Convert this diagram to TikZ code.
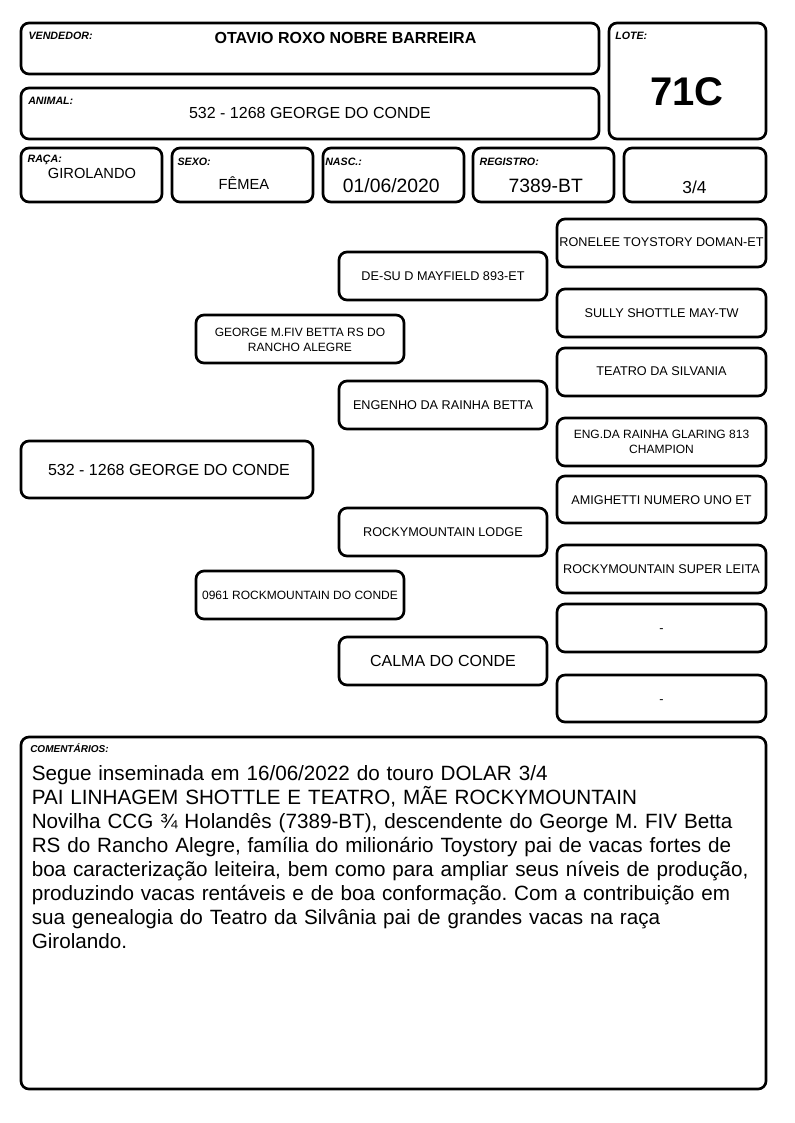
\documentclass[tikz,border=0pt]{standalone}
\usepackage{fontspec}
\setmainfont{Liberation Sans}
\usetikzlibrary{fit}
\frenchspacing
\begin{document}
\begin{tikzpicture}[x=0.75pt,y=-0.75pt,
  box/.style={draw, line width=2pt, rounded corners=6pt, inner sep=0pt, outer sep=0pt},
  lbl/.style={anchor=base west, inner sep=0pt, font=\fontsize{8}{9}\selectfont\bfseries\itshape},
  val/.style={anchor=base, inner sep=0pt},
  pt/.style={inner sep=0pt, anchor=center, font=\fontsize{9.5}{11}\selectfont, text height=6.8pt, text depth=0pt},
  ptbig/.style={inner sep=0pt, anchor=center, font=\fontsize{12}{14}\selectfont, text height=8.6pt, text depth=0pt},
  ptsm/.style={inner sep=0pt, anchor=center, font=\fontsize{9}{11.25}\selectfont, align=center},
]
\useasboundingbox (0,0) rectangle (794,1123);

% header boxes
\node[box, fit={(21,23)(599,74)}] (vend) {};
\node[lbl] (vendl) at (28.3,39.3) {VENDEDOR:};
\node[val, font=\fontsize{12}{14}\selectfont\bfseries] (vendv) at (345.5,43.3) {OTAVIO ROXO NOBRE BARREIRA};

\node[box, fit={(609,23)(766,139)}] (lote) {};
\node[lbl] (lotel) at (615,39.5) {LOTE:};
\node[val, font=\fontsize{30}{32}\selectfont\bfseries] (lotev) at (687,105.7) {71C};

\node[box, fit={(21,88)(599,139)}] (anim) {};
\node[lbl] (animl) at (28,104.7) {ANIMAL:};
\node[val, font=\fontsize{12}{14}\selectfont] (animv) at (310,119) {532 - 1268 GEORGE DO CONDE};

\node[box, fit={(21,148)(162,202)}] (raca) {};
\node[lbl] (racal) at (27.3,162.2) {RAÇA:};
\node[val, font=\fontsize{11}{13}\selectfont] (racav) at (92,178.3) {GIROLANDO};

\node[box, fit={(172,148)(313,202)}] (sexo) {};
\node[lbl] (sexol) at (177.3,165.5) {SEXO:};
\node[val, font=\fontsize{11}{13}\selectfont] (sexov) at (244,189.3) {FÊMEA};

\node[box, fit={(323,148)(464,202)}] (nasc) {};
\node[lbl] (nascl) at (325,165.5) {NASC.:};
\node[val, font=\fontsize{14.5}{16}\selectfont] (nascv) at (391.3,192.7) {01/06/2020};

\node[box, fit={(473,148)(614,202)}] (regi) {};
\node[lbl] (regil) at (479.3,165.5) {REGISTRO:};
\node[val, font=\fontsize{14.5}{16}\selectfont] (regiv) at (545.8,192.7) {7389-BT};

\node[box, fit={(624,148)(766,202)}] (grau) {};
\node[val, font=\fontsize{13}{15}\selectfont] (grauv) at (694.5,193.3) {3/4};

% pedigree boxes
\node[box, fit={(21,441)(313,498)}] (self) {};
\node[box, fit={(196,315)(404,363)}] (sire) {};
\node[box, fit={(196,571)(404,619)}] (dam) {};
\node[box, fit={(339,252)(547,300)}] (ss) {};
\node[box, fit={(339,381)(547,429)}] (sd) {};
\node[box, fit={(339,508)(547,556)}] (ds) {};
\node[box, fit={(339,637)(547,685)}] (dd) {};
\node[box, fit={(557,219)(766,267)}] (sss) {};
\node[box, fit={(557,289)(766,337)}] (ssd) {};
\node[box, fit={(557,348)(766,396)}] (sds) {};
\node[box, fit={(557,418)(766,466)}] (sdd) {};
\node[box, fit={(557,476)(766,523)}] (dss) {};
\node[box, fit={(557,545)(766,593)}] (dsd) {};
\node[box, fit={(557,604)(766,652)}] (dds) {};
\node[box, fit={(557,675)(766,722)}] (ddd) {};

% pedigree texts
\node[ptbig] (selft) at ([yshift=-0.5pt,xshift=1.5pt]self.center) {532 - 1268 GEORGE DO CONDE};
\node[ptsm] (siret) at ([yshift=-0.6pt]sire.center) {GEORGE M.FIV BETTA RS DO\\RANCHO ALEGRE};
\node[pt, font=\fontsize{9}{11}\selectfont, text height=6.5pt] (damt) at (dam.center) {0961 ROCKMOUNTAIN DO CONDE};
\node[pt] (sst) at (ss.center) {DE-SU D MAYFIELD 893-ET};
\node[pt] (sdt) at (sd.center) {ENGENHO DA RAINHA BETTA};
\node[pt] (dst) at (ds.center) {ROCKYMOUNTAIN LODGE};
\node[ptbig] (ddt) at (dd.center) {CALMA DO CONDE};
\node[pt] (ssst) at ([yshift=0.5pt]sss.center) {RONELEE TOYSTORY DOMAN-ET};
\node[pt] (ssdt) at (ssd.center) {SULLY SHOTTLE MAY-TW};
\node[pt] (sdst) at ([yshift=0.5pt]sds.center) {TEATRO DA SILVANIA};
\node[ptsm] (sddt) at ([yshift=0.4pt]sdd.center) {ENG.DA RAINHA GLARING 813\\CHAMPION};
\node[pt] (dsst) at (dss.center) {AMIGHETTI NUMERO UNO ET};
\node[pt] (dsdt) at (dsd.center) {ROCKYMOUNTAIN SUPER LEITA};
\node[pt] (ddst) at (dds.center) {-};
\node[pt] (dddt) at (ddd.center) {-};

% comments
\node[box, fit={(21,737)(766,1089)}] (com) {};
\node[lbl, font=\fontsize{7.5}{8}\selectfont\bfseries\itshape] (coml) at (30,752.7) {COMENTÁRIOS:};
\node[anchor=base west, inner sep=0pt, text width=560pt, align=left,
      font=\fontsize{15.5}{18.1}\selectfont] (comv) at (31.5,780)
{Segue inseminada em 16/06/2022 do touro DOLAR 3/4\\
PAI LINHAGEM SHOTTLE E TEATRO, MÃE ROCKYMOUNTAIN\\
Novilha CCG ¾ Holandês (7389-BT), descendente do George M. FIV Betta\\
RS do Rancho Alegre, família do milionário Toystory pai de vacas fortes de\\
boa caracterização leiteira, bem como para ampliar seus níveis de produção,\\
produzindo vacas rentáveis e de boa conformação. Com a contribuição em\\
sua genealogia do Teatro da Silvânia pai de grandes vacas na raça\\
Girolando.};
\end{tikzpicture}
\end{document}
